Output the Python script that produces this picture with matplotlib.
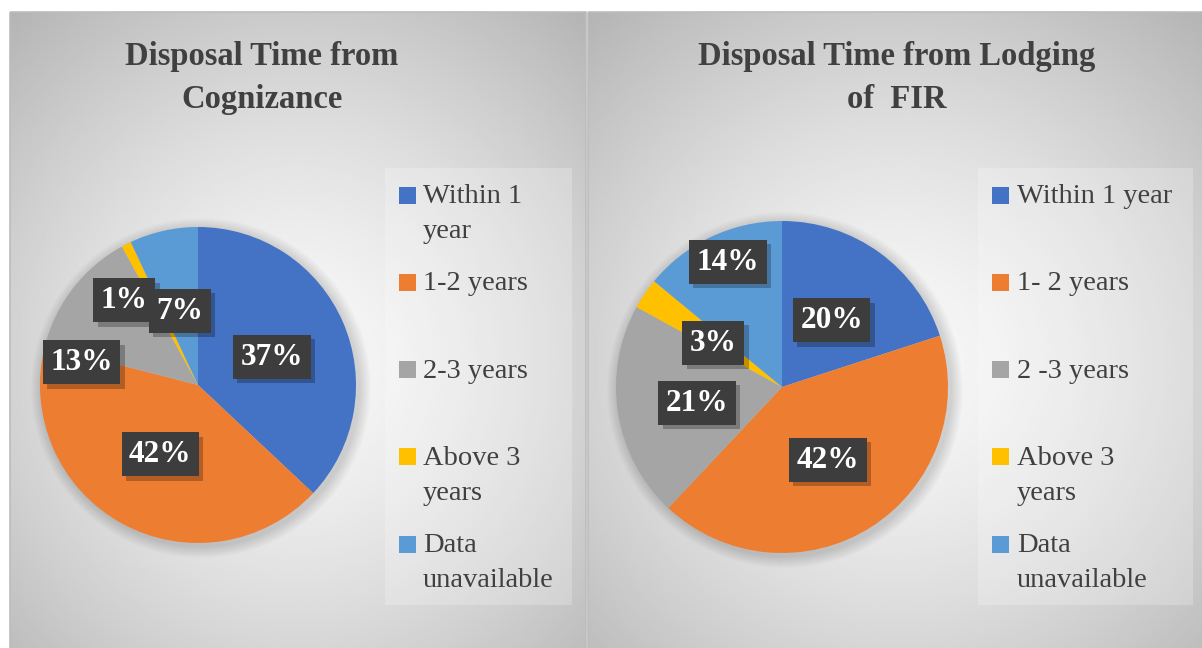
import numpy as np
import matplotlib
matplotlib.use('Agg')
import matplotlib.pyplot as plt
from matplotlib.patches import Rectangle, Circle
import matplotlib.patheffects as pe

# chart data
categories_left = ["Within 1\nyear", "1-2 years", "2-3 years", "Above 3\nyears", "Data\nunavailable"]
categories_right = ["Within 1 year", "1- 2 years", "2 -3 years", "Above 3\nyears", "Data\nunavailable"]
values_left = [37, 42, 13, 1, 7]
values_right = [20, 42, 21, 3, 14]
title_left = ["Disposal Time from", "Cognizance"]
title_right = ["Disposal Time from Lodging", "of  FIR"]

colors = ["#4472C4", "#ED7D31", "#A5A5A5", "#FFC000", "#5B9BD5"]
SERIF = "Liberation Serif"
TXT = "#404040"

# label placement: (radius fraction, angle nudge in degrees)
place_left = [(0.50, -2.7), (0.50, 0.3), (0.75, 26.8), (0.71, 14.0), (0.48, 1.1)]
place_right = [(0.50, -0.7), (0.52, -0.2), (0.52, 1.7), (0.49, 1.7), (0.82, -1.8)]

W, H = 1202, 648
fig = plt.figure(figsize=(W / 100, H / 100), dpi=100)
fig.patch.set_facecolor("white")

bg = fig.add_axes([0, 0, 1, 1])
bg.axis("off")


def panel_bg(x0, x1, y0, y1):
    xx, yy = np.meshgrid(np.linspace(-1, 1, 300), np.linspace(-1, 1, 300))
    d = np.sqrt((xx / 1.1) ** 2 + ((yy - 0.1) / 1.05) ** 2)
    v = 0.975 - 0.17 * np.clip(d, 0, 1.4) ** 1.4
    bg.imshow(v, cmap="gray", vmin=0, vmax=1, extent=(x0, x1, y1, y0),
              aspect="auto", interpolation="bilinear", zorder=0)
    bg.add_patch(Rectangle((x0, y0), x1 - x0, y1 - y0, fill=False,
                           edgecolor="#bcbcbc", lw=1.2, zorder=1))


panel_bg(10, 586, 12, H + 2)
panel_bg(588, W + 2, 12, H + 2)
bg.set_xlim(0, W)
bg.set_ylim(H, 0)


def legend_box(x0, x1, labels, sq_x, txt_x):
    bg.add_patch(Rectangle((x0, 168), x1 - x0, 437, facecolor="white",
                           alpha=0.22, edgecolor="none", zorder=2))
    for i, (lab, c) in enumerate(zip(labels, colors)):
        yc = 195 + i * 87.3
        bg.add_patch(Rectangle((sq_x, yc - 8.5), 16.5, 17, facecolor=c,
                               edgecolor="none", zorder=3))
        for j, line in enumerate(lab.split("\n")):
            bg.text(txt_x, yc + 8 + j * 35, line, fontsize=20.5, family=SERIF,
                    color=TXT, va="baseline", ha="left", zorder=3)


legend_box(385, 572, categories_left, 399, 423)
legend_box(978, 1193, categories_right, 992, 1017)


def title(x, lines):
    for j, line in enumerate(lines):
        bg.text(x, 65 + j * 43, line, fontsize=23.5, family=SERIF, weight="bold",
                color=TXT, ha="center", va="baseline", zorder=3)


title(262, title_left)
title(897, title_right)


def draw_pie(cx, cy, r, vals, place):
    # soft shadow round the pie
    for k in range(12, 0, -1):
        bg.add_patch(Circle((cx + 3, cy + 3), r + k, facecolor="black",
                            alpha=0.012, edgecolor="none", zorder=2))
    ax = fig.add_axes([(cx - r) / W, (H - cy - r) / H, 2 * r / W, 2 * r / H])
    wedges, _ = ax.pie(vals, colors=colors, startangle=90, counterclock=False,
                       radius=1, wedgeprops=dict(linewidth=0))
    ax.set_xlim(-1, 1)
    ax.set_ylim(-1, 1)
    ax.set_aspect("auto")
    ax.axis("off")
    ax.patch.set_alpha(0)
    for w, v, (rf, nudge) in zip(wedges, vals, place):
        ang = np.deg2rad((w.theta1 + w.theta2) / 2 + nudge)
        t = ax.text(rf * np.cos(ang), rf * np.sin(ang), f"{v}%", fontsize=22.5,
                    family=SERIF, weight="bold", color="white",
                    ha="center", va="center",
                    bbox=dict(boxstyle="square,pad=0.24", facecolor="#3d3d3d",
                              edgecolor="none", linewidth=0))
        t.get_bbox_patch().set_path_effects(
            [pe.SimplePatchShadow(offset=(3, -3), shadow_rgbFace="black", alpha=0.25),
             pe.Normal()])
    return ax


draw_pie(198, 385, 158, values_left, place_left)
draw_pie(782, 387, 166, values_right, place_right)

fig.savefig("out.png", dpi=100)
